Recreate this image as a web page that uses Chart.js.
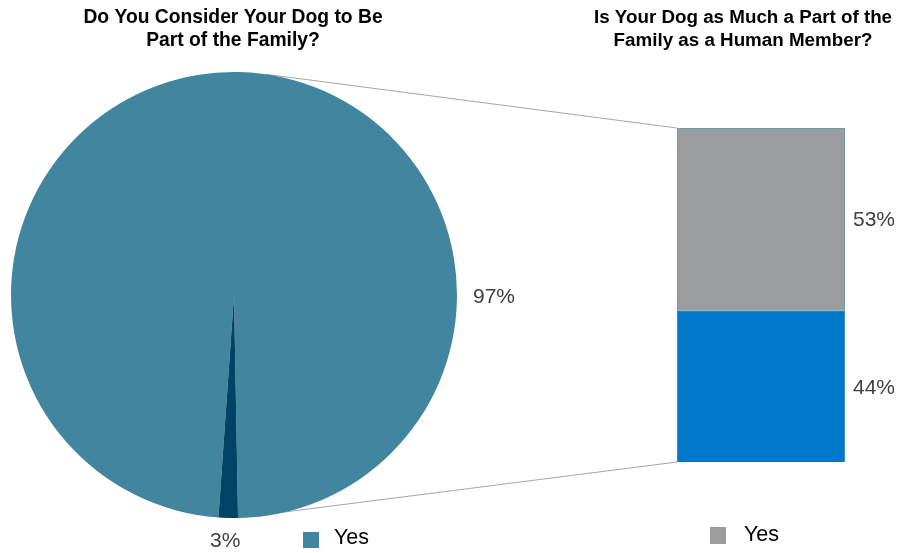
<!DOCTYPE html>
<html>
<head>
<meta charset="utf-8">
<script src="https://cdn.jsdelivr.net/npm/chart.js@4.4.1/dist/chart.umd.min.js"></script>
<style>
  html, body { margin: 0; padding: 0; background: #ffffff; }
  #wrap { position: relative; width: 906px; height: 553px; }
  #wrap canvas { position: absolute; left: 0; top: 0; }
</style>
</head>
<body>
<div id="wrap">
  <canvas id="bar-chart" width="906" height="553"></canvas>
  <canvas id="pie-chart" width="468" height="553"></canvas>
</div>
<script>
// Titulos dos dois graficos
const pieTitle = ['Do You Consider Your Dog to Be', 'Part of the Family?'];
const barTitle = ['Is Your Dog as Much a Part of the', 'Family as a Human Member?'];

// Pizza: fatias (tamanho) e rotulos impressos
const pieLabels = ['Yes', 'No'];
const pieValues = [98.6, 1.4];
const pieText = ['97%', '3%'];
const pieColors = ['#41869e', '#004366'];

// Barra empilhada: partes do "Yes"
const barCategories = ['Yes'];
const barSeries = ['As much as a human', 'Not as much'];
const barValues = [44, 53];
const barText = ['44%', '53%'];
const barColors = ['#0077c8', '#9b9c9e'];

const FONT = "'Liberation Sans', Arial, sans-serif";

// Grafico de pizza (fica por cima)
const pieChart = new Chart(document.getElementById('pie-chart'), {
    type: 'pie',
    data: {
        labels: pieLabels,
        datasets: [{
            data: pieValues,
            backgroundColor: pieColors,
            borderWidth: 0
        }]
    },
    options: {
        responsive: false,
        animation: false,
        devicePixelRatio: 1,
        rotation: 184,
        layout: { padding: { left: 11, right: 11, top: 72, bottom: 35 } },
        plugins: { legend: { display: false }, title: { display: false }, tooltip: { enabled: false } }
    }
});

// Linhas de ligacao, titulos, rotulos e legendas
const extrasPlugin = {
    id: 'extras',
    beforeDatasetsDraw(chart) {
        const ctx = chart.ctx;
        const arc = pieChart.getDatasetMeta(0).data[0];
        const cx = arc.x, cy = arc.y, r = arc.outerRadius;
        const bars = chart.getDatasetMeta(0).data[0];
        const top = chart.getDatasetMeta(1).data[0];
        const left = bars.x - bars.width / 2;

        const a1 = 8 * Math.PI / 180;
        const a2 = 179 * Math.PI / 180;
        ctx.save();
        ctx.strokeStyle = '#a6a6a6';
        ctx.lineWidth = 1;
        ctx.beginPath();
        ctx.moveTo(cx + r * Math.sin(a1), cy - r * Math.cos(a1));
        ctx.lineTo(left, top.y);
        ctx.moveTo(cx + r * Math.sin(a2), cy - r * Math.cos(a2));
        ctx.lineTo(left, bars.base);
        ctx.stroke();
        ctx.restore();
    },
    afterDraw(chart) {
        const ctx = chart.ctx;
        ctx.save();
        ctx.textBaseline = 'middle';

        // Titulos
        ctx.fillStyle = '#000000';
        ctx.textAlign = 'center';
        ctx.font = 'bold 19.3px ' + FONT;
        pieTitle.forEach((t, i) => ctx.fillText(t, 233, 18 + i * 23));
        ctx.font = 'bold 18.8px ' + FONT;
        barTitle.forEach((t, i) => ctx.fillText(t, 743, 18 + i * 23));

        // Rotulos da pizza
        ctx.fillStyle = '#404040';
        ctx.font = '21px ' + FONT;
        ctx.textAlign = 'left';
        ctx.fillText(pieText[0], 473, 297);
        ctx.fillText(pieText[1], 210, 541);

        // Rotulos da barra
        const meta0 = chart.getDatasetMeta(0).data[0];
        const meta1 = chart.getDatasetMeta(1).data[0];
        ctx.fillText(barText[0], 853, (meta0.y + meta0.base) / 2 + 2);
        ctx.fillText(barText[1], 853, (meta1.y + meta1.base) / 2 + 1);

        // Legendas
        ctx.fillStyle = pieColors[0];
        ctx.fillRect(303, 532, 16, 16);
        ctx.fillStyle = barColors[1];
        ctx.fillRect(710, 527, 16, 17);
        ctx.fillStyle = '#000000';
        ctx.font = '21.5px ' + FONT;
        ctx.fillText(pieLabels[0], 334, 538);
        ctx.fillText(barCategories[0], 744, 535);
        ctx.restore();
    }
};

// Grafico de barra empilhada (fica por baixo, ocupa a tela toda)
new Chart(document.getElementById('bar-chart'), {
    type: 'bar',
    data: {
        labels: barCategories,
        datasets: barSeries.map((name, i) => ({
            label: name,
            data: [barValues[i]],
            backgroundColor: barColors[i],
            borderColor: '#5b9db3',
            borderWidth: 1,
            barPercentage: 1,
            categoryPercentage: 1
        }))
    },
    options: {
        responsive: false,
        animation: false,
        devicePixelRatio: 1,
        layout: { padding: { left: 677, right: 61, top: 128, bottom: 91 } },
        scales: {
            x: { stacked: true, display: false },
            y: { stacked: true, display: false, min: 0, max: 97 }
        },
        plugins: { legend: { display: false }, title: { display: false }, tooltip: { enabled: false } }
    },
    plugins: [extrasPlugin]
});
</script>
</body>
</html>
